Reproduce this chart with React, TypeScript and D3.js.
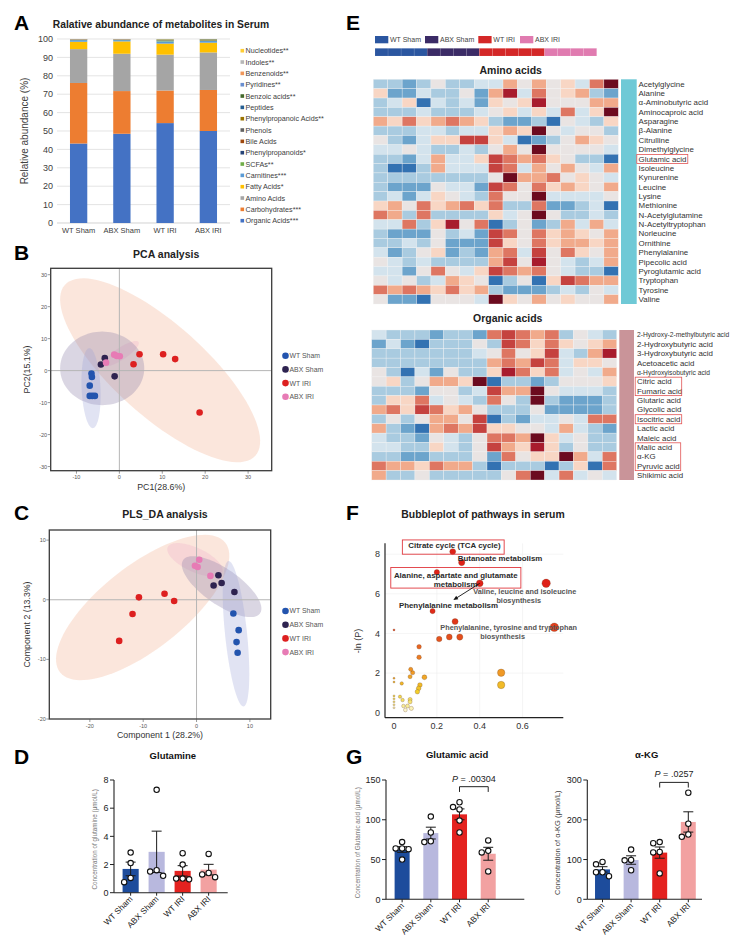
import React from 'react';
import * as d3 from 'd3';

const FONT = "'Liberation Sans', Arial, Helvetica, sans-serif";
const GROUPS = ['WT Sham', 'ABX Sham', 'WT IRI', 'ABX IRI'];
const BAR_COLORS = ['#1d4c9c', '#b8b8de', '#e4221f', '#f2a1a1'];
const DOT_COLORS = ['#2354ae', '#2e2350', '#dd2020', '#e77bb5'];
const HEAT_GROUP_COLORS = ['#2b56a0', '#3b2b66', '#d42727', '#e07bb0'];
const ELLIPSE_FILLS = ['#9aa3d8', '#8c7fa8', '#f4b89a', '#e87ab8'];
const ELLIPSE_OPACITY = [0.3, 0.32, 0.35, 0.16];

// ---------------- Panel A ----------------
const CLASS_NAMES = ['Organic Acids***', 'Carbohydrates***', 'Amino Acids', 'Fatty Acids*', 'Carnitines***', 'SCFAs**', 'Phenylpropanoids*', 'Bile Acids', 'Phenols', 'Phenylpropanoic Acids**', 'Peptides', 'Benzoic acids**', 'Pyridines**', 'Benzenoids**', 'Indoles**', 'Nucleotides**'];
const CLASS_COLORS = ['#4472c4', '#ed7d31', '#a5a5a5', '#ffc000', '#5b9bd5', '#70ad47', '#264478', '#9e480e', '#636363', '#997300', '#255e91', '#43682b', '#698ed0', '#f1975a', '#b7b7b7', '#ffcd33'];
const ABUNDANCE = [
  [43.2, 48.5, 54.3, 50.0],
  [32.9, 23.2, 17.7, 22.3],
  [18.4, 20.3, 19.5, 20.4],
  [4.0, 6.7, 6.0, 5.3],
  [0.9, 0.7, 1.2, 0.9],
  [0.05, 0.05, 0.4, 0.3],
  [0.05, 0.05, 0.05, 0.05],
  [0.1, 0.1, 0.1, 0.1],
  [0.05, 0.05, 0.05, 0.05],
  [0.05, 0.05, 0.05, 0.05],
  [0.05, 0.05, 0.05, 0.05],
  [0.05, 0.05, 0.3, 0.3],
  [0.05, 0.05, 0.05, 0.05],
  [0.05, 0.05, 0.05, 0.05],
  [0.05, 0.05, 0.05, 0.05],
  [0.2, 0.1, 0.1, 0.1],
];
const A_TICKS = [0, 10, 20, 30, 40, 50, 60, 70, 80, 90, 100];

// ---------------- Panel B (PCA) ----------------
const PCA_PC1 = [
  [-6.5, -6.4, -6.9, -6.9, -6.3, -5.7],
  [-3.4, -4.3, -1.1],
  [4.7, 10.2, 13.0, 3.3, 18.7],
  [-1.2, -0.6, 0.1, -3.1],
];
const PCA_PC2 = [
  [-0.9, -2.0, -4.7, -7.9, -7.9, -7.9],
  [3.9, 1.9, -1.8],
  [5.1, 5.1, 3.6, 2.0, -13.1],
  [5.0, 4.6, 4.5, 2.5],
];
// confidence ellipses: centre + two semi-axis vectors (data units)
const PCA_ELLIPSES = [
  { g: 2, cx: 9.5, cy: 0.1, ax: 22.2, ay: -26.7, bx: -7.1, by: -10.7 },
  { g: 3, cx: 0.4, cy: 5.3, ax: 4.07, ay: 3.64, bx: 0.77, by: -1.56 },
  { g: 1, cx: -4.0, cy: 0.7, ax: 9.8, ay: 0, bx: 0, by: 11.5 },
  { g: 0, cx: -6.6, cy: -5.5, ax: 0.4, ay: -12.5, bx: 2.2, by: 0 },
];
const PCA_XTICKS = [-10, 0, 10, 20, 30];
const PCA_YTICKS = [-30, -20, -10, 0, 10, 20, 30];

// ---------------- Panel C (PLS-DA) ----------------
const PLS_C1 = [
  [6.9, 7.9, 7.5, 7.7],
  [4.1, 3.2, 4.7, 7.1],
  [-10.8, -6.0, -4.2, -12.0, -14.5],
  [0.5, -0.3, 0.2, 2.6],
];
const PLS_C2 = [
  [-2.3, -5.1, -7.1, -8.9],
  [4.1, 2.4, 2.8, 1.3],
  [0.4, 1.0, -0.2, -2.4, -6.9],
  [6.7, 5.7, 5.5, 4.0],
];
const PLS_ELLIPSES = [
  { g: 2, cx: -10.1, cy: -1.3, ax: 15.5, ay: 10.85, bx: 4.86, by: -5.55 },
  { g: 3, cx: -0.3, cy: 6.7, ax: 5.1, ay: -2.13, bx: -0.95, by: -1.83 },
  { g: 1, cx: 4.7, cy: 2.2, ax: 7.2, ay: -4.47, bx: -1.93, by: -2.48 },
  { g: 0, cx: 7.4, cy: -5.7, ax: 1.41, ay: -12.19, bx: -2.05, by: -0.19 },
];
const PLS_XTICKS = [-20, -10, 0, 10];
const PLS_YTICKS = [-20, -10, 0, 10];

// ---------------- Panel D / G ----------------
const GLUTAMINE = [
  [2.85, 2.1, 1.05, 0.75],
  [7.3, 1.6, 1.5, 1.2],
  [2.8, 2.0, 1.0, 0.95, 1.0],
  [2.75, 1.4, 1.3, 1.1],
];
const GLUTAMIC = [
  [72, 64, 63, 64, 50],
  [104, 84, 72, 73],
  [122, 113, 116, 99, 84],
  [74, 61, 59, 35],
];
const AKG = [
  [88, 94, 68, 68, 58],
  [125, 98, 99, 73],
  [141, 144, 118, 119, 65],
  [268, 190, 163, 157],
];

// ---------------- Panel E (heatmaps) ----------------
const COLUMN_GROUP = [0, 0, 0, 0, 1, 1, 1, 1, 2, 2, 2, 2, 2, 3, 3, 3, 3];
const AMINO_NAMES = ['Acetylglycine', 'Alanine', 'α-Aminobutyric acid', 'Aminocaproic acid', 'Asparagine', 'β-Alanine', 'Citrulline', 'Dimethylglycine', 'Glutamic acid', 'Isoleucine', 'Kynurenine', 'Leucine', 'Lysine', 'Methionine', 'N-Acetylglutamine', 'N-Acetyltryptophan', 'Norleucine', 'Ornithine', 'Phenylalanine', 'Pipecolic acid', 'Pyroglutamic acid', 'Tryptophan', 'Tyrosine', 'Valine'];
const AMINO_Z = [
  [-2, -2, -3, -2, 0, -2, -2, -1, -1, 2, 0, 2, 0, 1, -1, 3, 6],
  [1, -3, -3, -1, -2, -2, 0, -3, 2, 5, -1, 3, 0, 1, 2, -2, -3],
  [-2, -1, 1, -4, -1, -2, -1, -3, 1, 0, 1, 5, 0, 0, 0, 2, 2],
  [-2, -2, -2, -1, -2, -2, -2, -1, 0, 1, -1, 1, -1, 3, -1, 1, 6],
  [2, 1, 3, 1, 2, 3, 2, 1, -2, -3, -3, -2, -4, 0, -1, -2, 1],
  [-2, -2, -2, -1, -1, -2, -1, -1, 1, 2, 1, 6, 0, -1, 0, 0, -2],
  [0, -2, -3, -1, 1, 1, 4, 4, 1, -1, -4, -3, -2, 0, 2, 1, 0],
  [-1, -1, 0, -1, -2, -2, -1, -2, 0, 2, 0, 6, 0, 0, 0, 0, -1],
  [-2, -2, -3, -1, 2, -1, -1, 1, 4, 3, 2, 3, 1, 0, -2, -2, -4],
  [-2, -4, -4, -2, 2, -1, -1, -1, 4, 3, -1, 2, 0, 2, 0, -1, 2],
  [-2, -2, -2, -2, -2, -2, -2, -2, 0, 6, 2, 2, 3, 0, 1, 0, -1],
  [-2, -3, -3, -3, 0, -1, -1, -3, 4, 3, 0, 3, 1, 2, 1, 0, 2],
  [-2, -1, -3, -1, 1, 0, -1, -2, 3, 0, 0, 6, -1, -1, -1, -1, 0],
  [1, 2, 0, 3, 1, 2, 3, 1, 3, -2, -2, 3, -3, -3, -2, -1, -4],
  [3, 2, -2, 3, -2, -2, -2, -2, 1, -1, 0, 6, 0, -2, -2, -1, -2],
  [-1, -1, 3, -2, 1, 5, 0, 3, -4, -2, 0, -3, -2, 2, -1, 2, -1],
  [-2, -3, -3, -3, 0, -2, -1, -3, 4, 3, 0, 3, 1, 2, 1, 0, 2],
  [-2, -2, -1, -2, 0, -3, -3, -3, 4, 1, 0, 3, 1, 2, 2, 1, 2],
  [-1, -3, -2, 0, 1, -3, -2, -3, 2, 3, -1, 4, 0, 3, 1, 0, 2],
  [0, -1, -2, -1, -2, -2, -2, -2, 2, 4, 0, 5, 0, -1, -2, -1, 2],
  [-1, -1, -3, 0, 3, 0, -1, 1, 4, 3, 2, 3, 0, -1, -2, -2, -4],
  [0, -1, 0, -2, -1, 2, 1, 0, -4, -2, 0, -4, 1, 4, 3, 2, 2],
  [3, 2, 3, 2, 1, 3, 1, 2, -2, -3, -3, -3, -2, -1, -2, 0, -1],
  [0, -3, -3, -4, 0, 0, 0, -1, 6, 1, 0, 2, 0, 1, 0, 0, 2],
];
const AMINO_BOXED = ['Glutamic acid'];
const ORGANIC_NAMES = ['2-Hydroxy-2-methylbutyric acid', '2-Hydroxybutyric acid', '3-Hydroxybutyric acid', 'Acetoacetic acid', 'α-Hydroxyisobutyric acid', 'Citric acid', 'Fumaric acid', 'Glutaric acid', 'Glycolic acid', 'Isocitric acid', 'Lactic acid', 'Maleic acid', 'Malic acid', 'α-KG', 'Pyruvic acid', 'Shikimic acid'];
const ORGANIC_SMALL = ['2-Hydroxy-2-methylbutyric acid', 'α-Hydroxyisobutyric acid'];
const ORGANIC_Z = [
  [-1, -2, -2, -2, -3, -2, -2, -3, 3, 4, 3, 2, 3, -2, 0, -1, -2],
  [-3, -1, -3, -4, -2, -2, -2, 0, -2, 4, 3, 1, 3, 1, 0, 1, 2],
  [-2, -2, -2, -2, -2, -2, -2, -1, 0, 3, 0, 1, 4, -1, -2, 2, 5],
  [-2, -2, -2, -2, -2, -2, -2, -2, 2, 3, 2, 4, 3, -1, 1, 1, 0],
  [0, -2, -4, -1, -3, 0, -2, -2, 1, 5, 3, 1, 3, -1, 0, -1, 2],
  [0, 1, -2, 0, 2, 2, 1, 6, -4, -2, -2, -3, -2, 0, 0, 0, 1],
  [-2, -2, -2, -3, 0, 0, -2, -1, 4, 2, 2, 6, 0, -1, -1, -1, -2],
  [-2, 1, 1, 3, -1, 0, -1, -2, 3, 0, -2, 6, -2, -3, -3, -3, -2],
  [2, 3, 1, 4, 3, 1, 2, 0, -2, -2, -2, 0, -3, -3, -3, -3, -2],
  [-2, 0, -2, 0, 2, 2, 0, 4, -4, -2, -3, -1, -1, 0, -1, 3, 3],
  [2, -2, -3, -4, 2, 3, 2, 4, 1, 1, 0, 0, -1, 2, -1, -2, -3],
  [-1, -2, -2, -3, 0, -1, -2, 0, 3, 3, 2, 6, 1, -1, 0, -2, -2],
  [-1, -1, -2, -2, 1, -1, -2, 0, 4, 2, 1, 5, 1, -2, 0, -2, -2],
  [-2, -2, -3, -3, -2, -2, -2, 0, -3, 3, 0, 1, 1, 6, 2, -1, 3],
  [3, 2, 2, 1, 3, 2, 2, -2, -4, -2, -2, -2, -4, -2, 1, -4, 3],
  [2, -2, -2, 0, -2, -2, -2, -2, -2, 0, 3, 6, -1, 3, -1, 0, -1],
];
const ORGANIC_BOX_GROUPS = [['Citric acid', 'Fumaric acid'], ['Isocitric acid'], ['Malic acid', 'α-KG', 'Pyruvic acid']];
const HEAT_LEVELS = [-4, -3, -2, -1, 0, 1, 2, 3, 4, 5, 6];
const HEAT_COLORS = ['#3372b2', '#6ca4cc', '#a9cbe0', '#d3e3ed', '#e9e4e3', '#f8d6c4', '#f1aa8b', '#de7662', '#c5423f', '#a81c2d', '#6c0b1f'];

// ---------------- Panel F (bubbles) ----------------
const PATH_IMPACT = [0.274, 0.316, 0.2, 0.40, 0.71, 0.18, 0.285, 0.748, 0, 0.211, 0.258, 0.307, 0.117, 0.117, 0.078, 0.087, 0.075, 0.142, 0.5, 0.5, 0, 0, 0.036, 0.121, 0.115, 0.109, 0.028, 0.04, 0.075, 0.075, 0.044, 0.063, 0.081, 0.053, 0, 0, 0, 0, 0];
const PATH_LNP = [8.13, 7.58, 7.09, 6.53, 6.53, 5.13, 4.6, 4.31, 4.18, 3.72, 3.82, 3.82, 3.33, 2.8, 2.19, 2.02, 1.82, 1.79, 2.02, 1.4, 1.74, 1.55, 1.48, 1.4, 1.23, 1.06, 0.81, 0.64, 0.67, 0.55, 0.34, 0.34, 0.22, 0.14, 0.85, 0.7, 0.55, 0.4, 0.25];
const F_XTICKS = [0, 0.2, 0.4, 0.6];
const F_YTICKS = [0, 2, 4, 6, 8];
const F_LABELS = [
  { lines: ['Citrate cycle (TCA cycle)'], x: 0.282, y: 8.32, bold: true },
  { lines: ['Butanoate metabolism'], x: 0.495, y: 7.66, bold: true },
  { lines: ['Alanine, aspartate and glutamate', 'metabolism'], x: 0.288, y: 6.79, bold: true },
  { lines: ['Valine, leucine and isoleucine', 'biosynthesis'], x: 0.61, y: 5.97, bold: false },
  { lines: ['Phenylalanine metabolism'], x: 0.254, y: 5.27, bold: true },
  { lines: ['Phenylalanine, tyrosine and tryptophan', 'biosynthesis'], x: 0.535, y: 4.18, bold: false },
];
const F_BOXES = [
  { x0: 0.039, x1: 0.514, y0: 8.0, y1: 8.72 },
  { x0: -0.015, x1: 0.592, y0: 6.29, y1: 7.33 },
];
const F_ARROW = { from: 3, toX: 0.277, toY: 5.69 };

// ---------------- helpers ----------------
function ellipsePath(e: any, xs: any, ys: any) {
  const pts = d3.range(0, 97).map((i) => {
    const t = (i / 96) * 2 * Math.PI;
    return [xs(e.cx + Math.cos(t) * e.ax + Math.sin(t) * e.bx), ys(e.cy + Math.cos(t) * e.ay + Math.sin(t) * e.by)] as [number, number];
  });
  return (d3.line()(pts) || '') + 'Z';
}

function swarm(vals: number[], y: (v: number) => number, r: number) {
  const order = vals.map((_, i) => i).sort((a, b) => vals[b] - vals[a]);
  const placed: { dx: number; py: number }[] = [];
  const out: { dx: number; py: number }[] = new Array(vals.length);
  const step = r * 2.4;
  const cands = [0, -1, 1, -2, 2];
  for (const i of order) {
    const py = y(vals[i]);
    let done = false;
    for (const c of cands) {
      const dx = c * step;
      if (placed.every((p) => Math.hypot(p.dx - dx, p.py - py) >= r * 2.1)) {
        placed.push({ dx, py });
        out[i] = { dx, py };
        done = true;
        break;
      }
    }
    if (!done) out[i] = { dx: 0, py };
  }
  return out;
}

function PanelLetter({ t, x, y }: { t: string; x: number; y: number }) {
  return <text x={x} y={y} fontSize={21} fontWeight="bold" fill="#000">{t}</text>;
}

// ---------------- Panel A ----------------
function PanelA() {
  const x = d3.scaleBand().domain(GROUPS).range([57, 230]).paddingInner(0.6).paddingOuter(0.3);
  const y = d3.scaleLinear().domain([0, 100]).range([223, 39]);
  const legY = d3.scaleLinear().domain([0, CLASS_NAMES.length - 1]).range([220.7, 50.7]);
  return (
    <g>
      <PanelLetter t="A" x={14} y={30} />
      <text x={161} y={27.8} textAnchor="middle" fontSize={10.3} fontWeight="bold" fill="#222">Ralative abundance of metabolites in Serum</text>
      {A_TICKS.map((t) => (
        <g key={t}>
          <line x1={57} x2={230} y1={y(t)} y2={y(t)} stroke={t === 0 ? '#bfbfbf' : '#d9d9d9'} strokeWidth={0.7} />
          <text x={53} y={y(t) + 3.2} textAnchor="end" fontSize={9} fill="#404040">{t}</text>
        </g>
      ))}
      {GROUPS.map((g, gi) => {
        let acc = 0;
        return (
          <g key={g}>
            {ABUNDANCE.map((row, ci) => {
              const y0 = acc;
              acc += row[gi];
              const y1 = Math.min(acc, 100);
              if (y1 <= y0) return null;
              return <rect key={ci} x={x(g)} width={x.bandwidth()} y={y(y1)} height={y(y0) - y(y1)} fill={CLASS_COLORS[ci]} />;
            })}
            <text x={(x(g) as number) + x.bandwidth() / 2} y={233} textAnchor="middle" fontSize={7.5} fill="#404040">{g}</text>
          </g>
        );
      })}
      <text transform={`translate(28,131) rotate(-90)`} textAnchor="middle" fontSize={10} fill="#404040">Relative abundance (%)</text>
      {CLASS_NAMES.map((n, i) => (
        <g key={n}>
          <rect x={240.5} y={legY(i) - 1.8} width={3.6} height={3.6} fill={CLASS_COLORS[i]} />
          <text x={245.5} y={legY(i) + 2.5} fontSize={7.2} fill="#404040">{n}</text>
        </g>
      ))}
    </g>
  );
}

// ---------------- Scatter panel (B, C) ----------------
function ScatterPanel(props: any) {
  const { letter, letterY, title, titleY, xDomain, yDomain, xRange, yRange, xTicks, yTicks, xs, ys, ellipses, xLabel, yLabel, xLabelY, legendY, clipId } = props;
  const x = d3.scaleLinear().domain(xDomain).range(xRange);
  const y = d3.scaleLinear().domain(yDomain).range(yRange);
  const [x0, x1] = xRange;
  const [yb, yt] = yRange;
  const legStep = 13.7;
  return (
    <g>
      <PanelLetter t={letter} x={14} y={letterY} />
      <text x={(x0 + x1) / 2 + 5} y={titleY} textAnchor="middle" fontSize={10.5} fontWeight="bold" fill="#222">{title}</text>
      <defs>
        <clipPath id={clipId}><rect x={x0} y={yt} width={x1 - x0} height={yb - yt} /></clipPath>
      </defs>
      <g clipPath={`url(#${clipId})`}>
        {ellipses.map((e: any, i: number) => (
          <path key={i} d={ellipsePath(e, x, y)} fill={ELLIPSE_FILLS[e.g]} fillOpacity={ELLIPSE_OPACITY[e.g]} stroke="none" />
        ))}
        <line x1={x(0)} x2={x(0)} y1={yt} y2={yb} stroke="#b5b5b5" strokeWidth={1} />
        <line x1={x0} x2={x1} y1={y(0)} y2={y(0)} stroke="#b5b5b5" strokeWidth={1} />
        {[1, 0, 2, 3].map((g) => xs[g].map((v: number, i: number) => (
          <circle key={`${g}-${i}`} cx={x(v)} cy={y(ys[g][i])} r={3.3} fill={DOT_COLORS[g]} />
        )))}
      </g>
      <rect x={x0} y={yt} width={x1 - x0} height={yb - yt} fill="none" stroke="#3a3a3a" strokeWidth={1.3} />
      {yTicks.map((t: number) => (
        <g key={t}>
          <line x1={x0 - 3} x2={x0} y1={y(t)} y2={y(t)} stroke="#555" strokeWidth={0.6} />
          <text x={x0 - 3.5} y={y(t) + 2} textAnchor="end" fontSize={5.5} fill="#555">{t}</text>
        </g>
      ))}
      {xTicks.map((t: number) => (
        <g key={t}>
          <line x1={x(t)} x2={x(t)} y1={yb} y2={yb + 3} stroke="#555" strokeWidth={0.6} />
          <text x={x(t)} y={yb + 8.5} textAnchor="middle" fontSize={5.5} fill="#555">{t}</text>
        </g>
      ))}
      <text x={(x0 + x1) / 2} y={xLabelY} textAnchor="middle" fontSize={8.8} fill="#333">{xLabel}</text>
      <text transform={`translate(29.5,${(yt + yb) / 2}) rotate(-90)`} textAnchor="middle" fontSize={8.8} fill="#333">{yLabel}</text>
      {GROUPS.map((g, i) => (
        <g key={g}>
          <circle cx={285.5} cy={legendY + i * legStep} r={3.3} fill={DOT_COLORS[i]} />
          <text x={289.5} y={legendY + i * legStep + 2.4} fontSize={6.9} fill="#555">{g}</text>
        </g>
      ))}
    </g>
  );
}

// ---------------- Bar + dots panel (D, G) ----------------
function BarPanel(props: any) {
  const { title, titleY, data, yMax, yTicks, yBottom, yTop, xStart, po, axisEnd, yLabel, yLabelX, yLabelSize, yLabelColor, pval, pY, bracketTop, bracketLeg } = props;
  const y = d3.scaleLinear().domain([0, yMax]).range([yBottom, yTop]);
  const stepPx = props.step;
  const pi = props.pi;
  const rangeEnd = xStart + stepPx * (4 - pi + 2 * po);
  const x = d3.scaleBand().domain(GROUPS).range([xStart, rangeEnd]).paddingInner(pi).paddingOuter(po);
  const bw = x.bandwidth();
  const r = 2.7;
  const cxOf = (g: string) => (x(g) as number) + bw / 2;
  return (
    <g>
      <text x={(xStart + axisEnd) / 2 + 2} y={titleY} textAnchor="middle" fontSize={9.5} fontWeight="bold" fill="#111">{title}</text>
      {GROUPS.map((g, gi) => {
        const vals = data[gi];
        const mean = d3.mean(vals) as number;
        const sem = (d3.deviation(vals) as number) / Math.sqrt(vals.length);
        const cx = cxOf(g);
        const pts = swarm(vals, y, r);
        return (
          <g key={g}>
            <rect x={x(g)} width={bw} y={y(mean)} height={y(0) - y(mean)} fill={BAR_COLORS[gi]} />
            <line x1={cx} x2={cx} y1={y(mean - sem)} y2={y(mean + sem)} stroke="#1a1a1a" strokeWidth={1} />
            <line x1={cx - 5} x2={cx + 5} y1={y(mean + sem)} y2={y(mean + sem)} stroke="#1a1a1a" strokeWidth={1} />
            <line x1={cx - 5} x2={cx + 5} y1={y(mean - sem)} y2={y(mean - sem)} stroke="#1a1a1a" strokeWidth={1} />
            {pts.map((p, i) => (
              <circle key={i} cx={cx + p.dx} cy={p.py} r={r} fill="#fff" stroke="#111" strokeWidth={1.1} />
            ))}
            <line x1={cx} x2={cx} y1={yBottom} y2={yBottom + 3} stroke="#222" strokeWidth={1} />
            <text transform={`translate(${cx + 2.5},${yBottom + 7}) rotate(-45)`} textAnchor="end" fontSize={8.3} fill="#222">{g}</text>
          </g>
        );
      })}
      <line x1={xStart} x2={xStart} y1={yTop} y2={yBottom} stroke="#222" strokeWidth={1.1} />
      <line x1={xStart} x2={axisEnd} y1={yBottom} y2={yBottom} stroke="#222" strokeWidth={1.1} />
      {yTicks.map((t: number) => (
        <g key={t}>
          <line x1={xStart - 4} x2={xStart} y1={y(t)} y2={y(t)} stroke="#222" strokeWidth={1} />
          <text x={xStart - 5.5} y={y(t) + 3.2} textAnchor="end" fontSize={9} fill="#222">{t}</text>
        </g>
      ))}
      <text transform={`translate(${yLabelX},${(yTop + yBottom) / 2 + 3}) rotate(-90)`} textAnchor="middle" fontSize={yLabelSize} fill={yLabelColor}>{yLabel}</text>
      {pval && (
        <g>
          <text x={(cxOf('WT IRI') + cxOf('ABX IRI')) / 2} y={y(pY)} textAnchor="middle" fontSize={9} fill="#222">
            <tspan fontStyle="italic">P</tspan> = {pval}
          </text>
          <path d={`M${cxOf('WT IRI')},${y(bracketLeg)}V${y(bracketTop)}H${cxOf('ABX IRI')}V${y(bracketLeg)}`} fill="none" stroke="#222" strokeWidth={1} />
        </g>
      )}
    </g>
  );
}

// ---------------- Heatmap ----------------
function Heatmap(props: any) {
  const { names, z, x0, x1, y0, y1, sideX0, sideX1, sideColor, labelX, title, titleX, titleY, boxed, smallNames, boxWidth } = props;
  const color = d3.scaleLinear<string>().domain(HEAT_LEVELS).range(HEAT_COLORS).clamp(true);
  const cols = d3.scaleBand<number>().domain(d3.range(17)).range([x0, x1]);
  const rows = d3.scaleBand<string>().domain(names).range([y0, y1]);
  const rh = rows.bandwidth();
  return (
    <g>
      <text x={titleX} y={titleY} textAnchor="middle" fontSize={10.5} fontWeight="bold" fill="#222">{title}</text>
      {names.map((n: string, ri: number) => (
        <g key={n}>
          {z[ri].map((v: number, ci: number) => (
            <rect key={ci} x={cols(ci)} y={rows(n)} width={cols.bandwidth()} height={rh} fill={color(v)} stroke="#f2f2f2" strokeWidth={0.35} />
          ))}
          <text x={labelX} y={(rows(n) as number) + rh / 2 + 2.7} fontSize={smallNames && smallNames.includes(n) ? 6.7 : 7.9} fill="#333">{n}</text>
        </g>
      ))}
      <rect x={sideX0} y={y0} width={sideX1 - sideX0} height={y1 - y0} fill={sideColor} />
      {boxed.map((grp: string[], i: number) => {
        const top = rows(grp[0]) as number;
        const bot = (rows(grp[grp.length - 1]) as number) + rh;
        return <rect key={i} x={labelX - 1.8} y={top + 0.3} width={boxWidth[i]} height={bot - top - 0.3} fill="none" stroke="#e25555" strokeWidth={0.8} />;
      })}
    </g>
  );
}

function PanelE() {
  const gx = d3.scaleBand<number>().domain(d3.range(17)).range([375, 596.7]);
  const legendX = [375, 425, 478.3, 520];
  return (
    <g>
      <PanelLetter t="E" x={346} y={30} />
      {GROUPS.map((g, i) => (
        <g key={g}>
          <rect x={legendX[i]} y={36} width={13.3} height={7.3} fill={HEAT_GROUP_COLORS[i]} />
          <text x={legendX[i] + 15} y={42.3} fontSize={7} fill="#444">{g}</text>
        </g>
      ))}
      {COLUMN_GROUP.map((g, i) => (
        <rect key={i} x={gx(i)} y={48.3} width={gx.bandwidth()} height={7.7} fill={HEAT_GROUP_COLORS[g]} stroke="#ffffff" strokeOpacity={0.18} strokeWidth={0.5} />
      ))}
      <Heatmap names={AMINO_NAMES} z={AMINO_Z} x0={373.3} x1={618.3} y0={79.3} y1={304} sideX0={621} sideX1={636.7} sideColor="#6fc9d6" labelX={638.6}
        title="Amino acids" titleX={510.7} titleY={73.5} boxed={[AMINO_BOXED]} boxWidth={[51]} smallNames={[]} />
      <Heatmap names={ORGANIC_NAMES} z={ORGANIC_Z} x0={371.7} x1={616.7} y0={330} y1={480} sideX0={619.3} sideX1={634} sideColor="#c99499" labelX={637}
        title="Organic acids" titleX={507.7} titleY={322} boxed={ORGANIC_BOX_GROUPS} boxWidth={[46.5, 46.5, 45.5]} smallNames={ORGANIC_SMALL} />
    </g>
  );
}

// ---------------- Panel F ----------------
function PanelF() {
  const x = d3.scaleLinear().domain([-0.042, 0.79]).range([385, 563.3]);
  const y = d3.scaleLinear().domain([-0.25, 8.55]).range([717.7, 543.3]);
  const size = d3.scaleSqrt().domain([0, 0.75]).range([1.0, 4.3]);
  const col = d3.scaleLinear<string>().domain([0, 0.4, 1, 2, 3, 4, 5.5]).range(['#fffdf0', '#f7ea8a', '#f2d12a', '#f09a25', '#ea7322', '#e3461c', '#df2118']).clamp(true);
  const order = d3.range(PATH_IMPACT.length).sort((a, b) => PATH_IMPACT[b] - PATH_IMPACT[a]);
  const ax = x(PATH_IMPACT[F_ARROW.from]);
  const ay = y(PATH_LNP[F_ARROW.from]);
  const bx = x(F_ARROW.toX);
  const by = y(F_ARROW.toY);
  const ang = Math.atan2(by - ay, bx - ax);
  const hl = 5;
  const head = `M${bx},${by}L${bx - hl * Math.cos(ang - 0.4)},${by - hl * Math.sin(ang - 0.4)}L${bx - hl * Math.cos(ang + 0.4)},${by - hl * Math.sin(ang + 0.4)}Z`;
  return (
    <g>
      <PanelLetter t="F" x={346} y={520} />
      <text x={483} y={517.5} textAnchor="middle" fontSize={10.4} fontWeight="bold" fill="#222">Bubbleplot of pathways in serum</text>
      {F_XTICKS.filter((t) => t > 0).map((t) => (
        <line key={t} x1={x(t)} x2={x(t)} y1={543.3} y2={717.7} stroke="#efefef" strokeWidth={0.6} />
      ))}
      {F_YTICKS.filter((t) => t > 0).map((t) => (
        <line key={t} x1={385} x2={563.3} y1={y(t)} y2={y(t)} stroke="#efefef" strokeWidth={0.6} />
      ))}
      {order.map((i) => (
        <circle key={i} cx={x(PATH_IMPACT[i])} cy={y(PATH_LNP[i])} r={size(PATH_IMPACT[i])} fill={col(PATH_LNP[i])} stroke="#6a4020" strokeOpacity={0.6} strokeWidth={0.45} />
      ))}
      <line x1={385} x2={385} y1={543.3} y2={717.7} stroke="#222" strokeWidth={1.2} />
      <line x1={385} x2={563.3} y1={717.7} y2={717.7} stroke="#222" strokeWidth={1.2} />
      {F_YTICKS.map((t) => (
        <text key={t} x={380} y={y(t) + 3.2} textAnchor="end" fontSize={9} fill="#333">{t}</text>
      ))}
      {F_XTICKS.map((t) => (
        <text key={t} x={x(t)} y={728.5} textAnchor="middle" fontSize={9} fill="#333">{t}</text>
      ))}
      <text transform="translate(361,641) rotate(-90)" textAnchor="middle" fontSize={9} fill="#333">-ln (P)</text>
      {F_BOXES.map((b, i) => (
        <rect key={i} x={x(b.x0)} y={y(b.y1)} width={x(b.x1) - x(b.x0)} height={y(b.y0) - y(b.y1)} fill="none" stroke="#e0383e" strokeWidth={0.9} />
      ))}
      {F_LABELS.map((l, i) => (
        <text key={i} x={x(l.x)} y={y(l.y)} textAnchor="middle" fontSize={l.bold ? 7.9 : 7.3} fontWeight="bold" fill={l.bold ? '#2a2a2a' : '#555'}>
          {l.lines.map((s, j) => (
            <tspan key={j} x={x(l.x) - (j > 0 && !l.bold ? 6 : 0)} dy={j === 0 ? 0 : 8.8}>{s}</tspan>
          ))}
        </text>
      ))}
      <line x1={ax} y1={ay} x2={bx - 3 * Math.cos(ang)} y2={by - 3 * Math.sin(ang)} stroke="#111" strokeWidth={0.9} />
      <path d={head} fill="#111" />
    </g>
  );
}

export default function App() {
  return (
    <svg width={734} height={941} viewBox="0 0 734 941" fontFamily={FONT} style={{ position: 'absolute', left: 0, top: 0, background: '#fff' }}>
      <rect width={734} height={941} fill="#fff" />
      <PanelA />
      <ScatterPanel letter="B" letterY={259.5} title="PCA analysis" titleY={257.5}
        xDomain={[-16, 35.5]} yDomain={[-31.3, 32]} xRange={[50.7, 271.7]} yRange={[470.7, 268.3]}
        xTicks={PCA_XTICKS} yTicks={PCA_YTICKS} xs={PCA_PC1} ys={PCA_PC2} ellipses={PCA_ELLIPSES}
        xLabel="PC1(28.6%)" yLabel="PC2(15.1%)" xLabelY={490} legendY={355.7} clipId="clipB" />
      <ScatterPanel letter="C" letterY={520} title="PLS_DA analysis" titleY={517.5}
        xDomain={[-27.6, 13.9]} yDomain={[-20, 11.7]} xRange={[49.3, 270.7]} yRange={[719, 530]}
        xTicks={PLS_XTICKS} yTicks={PLS_YTICKS} xs={PLS_C1} ys={PLS_C2} ellipses={PLS_ELLIPSES}
        xLabel="Component 1 (28.2%)" yLabel="Component 2 (13.3%)" xLabelY={737.5} legendY={611} clipId="clipC" />
      <PanelLetter t="D" x={14} y={763.5} />
      <BarPanel title="Glutamine" titleY={759} data={GLUTAMINE} yMax={8} yTicks={[0, 2, 4, 6, 8]} yBottom={892.7} yTop={780}
        xStart={114} step={26} pi={0.38} po={0.33} axisEnd={227.7}
        yLabel="Concentration of glutamine (μmol/L)" yLabelX={97} yLabelSize={6.3} yLabelColor="#777" />
      <PanelE />
      <PanelF />
      <PanelLetter t="G" x={346} y={763.5} />
      <BarPanel title="Glutamic acid" titleY={758} data={GLUTAMIC} yMax={150} yTicks={[0, 50, 100, 150]} yBottom={899.3} yTop={780}
        xStart={386} step={28.7} pi={0.477} po={0.3} axisEnd={524.3}
        yLabel="Concentration of Glutamic acid (μmol/L)" yLabelX={359.5} yLabelSize={6.3} yLabelColor="#777"
        pval=".00304" pY={148} bracketTop={141.6} bracketLeg={135} />
      <BarPanel title="α-KG" titleY={758} data={AKG} yMax={300} yTicks={[0, 100, 200, 300]} yBottom={899.3} yTop={780}
        xStart={587.3} step={28.6} pi={0.477} po={0.27} axisEnd={702}
        yLabel="Concentration of α-KG (μmol/L)" yLabelX={559.5} yLabelSize={7.5} yLabelColor="#444"
        pval=".0257" pY={308} bracketTop={294} bracketLeg={281} />
    </svg>
  );
}
